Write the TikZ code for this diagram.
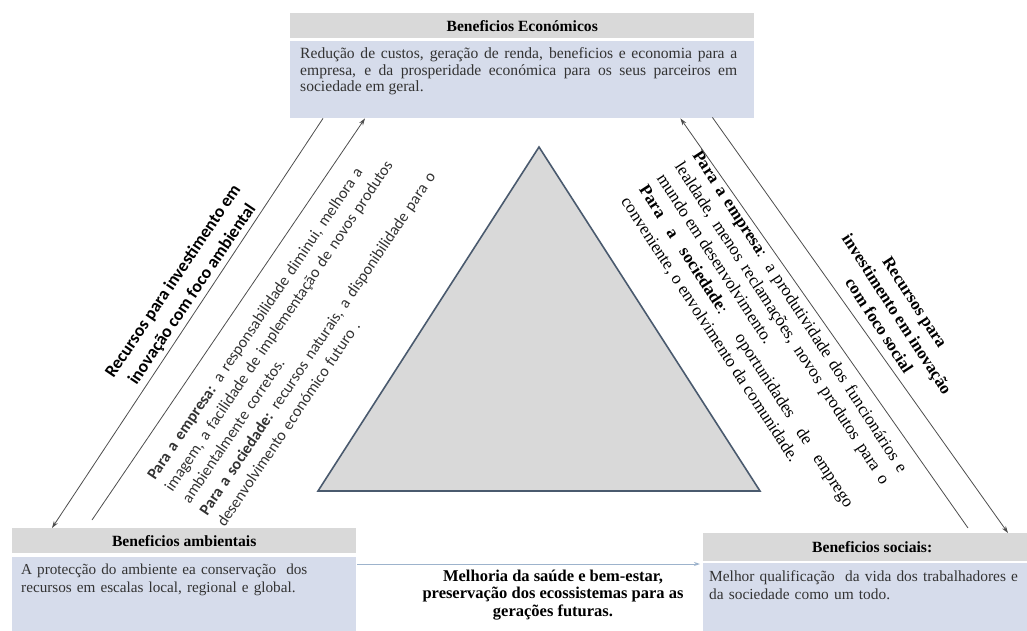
\documentclass[tikz,border=0pt]{standalone}
\usepackage{fontspec}
\setmainfont{Liberation Serif}
\newfontfamily\calfont{Carlito}
\usetikzlibrary{arrows.meta,calc}
\definecolor{hdrgray}{HTML}{D9D9D9}
\definecolor{bodyblue}{HTML}{D6DCEB}
\definecolor{tribord}{HTML}{4A5A6E}
\definecolor{trifill}{HTML}{D9D9D9}
\definecolor{arrgray}{HTML}{4D4D4D}
\definecolor{hline}{HTML}{9DB3CC}
\definecolor{txtgray}{HTML}{333333}
\hbadness=10000
\begin{document}
\begin{tikzpicture}[x=1pt,y=1pt,
  hdrbox/.style={fill=hdrgray, draw=none, inner sep=0pt, anchor=north west,
    font=\fontsize{15.6}{18}\selectfont\bfseries},
  bodybox/.style={fill=bodyblue, draw=none, inner sep=0pt, anchor=north west},
  boxtext/.style={inner sep=0pt, anchor=base west, text=txtgray,
    font=\fontsize{15.6}{16.5}\selectfont},
  conn/.style={draw=arrgray, line width=0.8pt, -{Stealth[length=7pt,width=4.5pt]}},
  hconn/.style={draw=hline, line width=0.9pt, -{Stealth[length=6pt,width=4pt]}},
  tri/.style={draw=tribord, fill=trifill, line width=1.6pt, line join=miter},
  leftlbl/.style={inner sep=0pt, rotate=56, align=center,
    font=\calfont\fontsize{17.6}{23}\selectfont\bfseries},
  lefttxt/.style={inner sep=0pt, rotate=56, anchor=base west, text width=450pt,
    align=left, text=txtgray, font=\calfont\fontsize{16}{21}\selectfont},
  rightlbl/.style={inner sep=0pt, rotate=-57, align=center,
    font=\fontsize{17}{21.3}\selectfont\bfseries},
  righttxt/.style={inner sep=0pt, rotate=-57, anchor=base west, text width=380pt,
    align=justify, font=\fontsize{17.2}{21.3}\selectfont},
  midtxt/.style={inner sep=0pt, align=center, font=\fontsize{16.5}{17.6}\selectfont\bfseries}
]
\useasboundingbox (0,0) rectangle (1027,-631);

% top box
\node[hdrbox, minimum width=464pt, minimum height=25pt] (econH) at (290,-13) {Beneficios Económicos};
\node[bodybox, minimum width=464pt, minimum height=77pt] (econB) at (290,-41) {};
\node[boxtext, text width=437pt, align=justify] (econT) at (300,-59)
  {Redução de custos, geração de renda, beneficios e economia para a\linebreak
   empresa, e da prosperidade económica para os seus parceiros em\linebreak
   sociedade em geral.};

% bottom-left box
\node[hdrbox, minimum width=344pt, minimum height=25pt] (ambH) at (12,-528) {Beneficios ambientais};
\node[bodybox, minimum width=344pt, minimum height=74pt] (ambB) at (12,-557) {};
\node[boxtext, text width=330pt, align=left, font=\fontsize{15.2}{18}\selectfont] (ambT) at (21,-574)
  {A protecção do ambiente ea conservação\ \ dos\\
   recursos em escalas local, regional e global.};

% bottom-right box
\node[hdrbox, minimum width=338pt, minimum height=28pt] (socH) at (703,-533) {Beneficios sociais:};
\node[bodybox, minimum width=338pt, minimum height=68pt] (socB) at (703,-563) {};
\node[boxtext, text width=320pt, align=left, font=\fontsize{15.4}{18}\selectfont] (socT) at (709,-581)
  {Melhor qualificação\ \ da vida dos trabalhadores e\\
   da sociedade como um todo.};

% triangle
\coordinate (tA) at (539,-147);
\coordinate (tL) at (318,-491);
\coordinate (tR) at (760,-491);
\draw[tri] (tA) -- (tL) -- (tR) -- cycle;

% connectors
\draw[conn] ($(econB.south west)+(33,0)$) -- ($(ambH.north west)+(40,0)$);
\draw[conn] ($(ambH.north west)+(80,8)$) -- ($(econB.south west)+(75,0)$);
\draw[conn] ($(socH.north west)+(265,5)$) -- ($(econB.south east)+(-74,0)$);
\draw[conn] ($(econB.south east)+(-42,1)$) -- ($(socH.north west)+(305,0)$);
\draw[hconn] ($(ambB.north east)+(1,-7)$) -- ($(socB.north west)+(-3,-1)$);

% rotated labels and texts
\node[leftlbl] (lLbl) at (183,-288)
  {Recursos para investimento em\\inovação com foco ambiental};
\node[lefttxt] (lTxt) at (155,-481)
  {\textbf{Para a empresa:} a responsabilidade diminui, melhora a\\
   imagem, a facilidade de implementação de novos produtos\\
   ambientalmente corretos.\\
   \textbf{Para a sociedade:} recursos naturais, a disponibilidade para o\\
   desenvolvimento económico futuro .};
\node[rightlbl] (rLbl) at (897,-314)
  {Recursos para\\investimento em inovação\\com foco social};
\node[righttxt] (rTxt) at (692,-155)
  {\textbf{Para a empresa}: a produtividade dos funcionários e\linebreak
   lealdade, menos reclamações, novos produtos para o\linebreak
   mundo em desenvolvimento.\\
   \textbf{Para a sociedade}: oportunidades de emprego\linebreak
   conveniente, o envolvimento da comunidade.};

% middle bottom text
\node[midtxt] (mTxt) at (553,-595)
  {Melhoria da saúde e bem-estar,\\preservação dos ecossistemas para as\\gerações futuras.};
\end{tikzpicture}
\end{document}
